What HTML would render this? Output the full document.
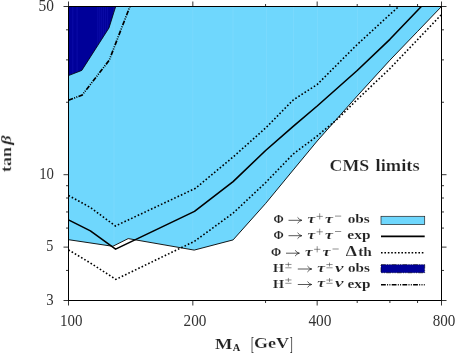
<!DOCTYPE html>
<html><head><meta charset="utf-8"><title>CMS limits</title>
<style>html,body{margin:0;padding:0;background:#fff;}body{width:455px;height:354px;overflow:hidden;position:relative;font-family:"Liberation Serif",serif;}</style>
</head><body>
<svg width="455" height="354" viewBox="0 0 455 354" style="position:absolute;left:0;top:0">
<polygon points="68.5,6.5 441.5,6.5 417.5,31.5 389.9,60.2 357.2,96.0 317.2,141.0 293.2,170.0 265.6,203.5 233.1,239.9 194.2,250.1 128.2,238.6 112.8,246.3 68.5,239.7" fill="#6fd7fd" stroke="#000" stroke-width="0.9" stroke-linejoin="miter"/>
<polygon points="68.5,6.5 115.7,6.5 109.0,27.9 81.8,70.4 68.5,75.6" fill="#000099" stroke="#000" stroke-width="0.8"/>
<clipPath id="cd"><polygon points="68.5,6.5 115.7,6.5 109.0,27.9 81.8,70.4 68.5,75.6"/></clipPath><clipPath id="cl"><polygon points="68.5,6.5 441.5,6.5 417.5,31.5 389.9,60.2 357.2,96.0 317.2,141.0 293.2,170.0 265.6,203.5 233.1,239.9 194.2,250.1 128.2,238.6 112.8,246.3 68.5,239.7"/></clipPath>
<path clip-path="url(#cd)" d="M72.8,6V80M77.1,6V80M97.8,6V80M99.8,6V80M101.7,6V80M103.6,6V80M105.6,6V80M107.6,6V80" stroke="#5050ff" stroke-opacity="0.16" stroke-width="0.9" fill="none"/>
<path clip-path="url(#cl)" d="M114,6V260M192.8,6V260M233,6V260M266.5,6V260M293.5,6V260M317.5,6V260M357.5,6V260" stroke="#fff" stroke-opacity="0.07" stroke-width="1" fill="none"/>
<polyline points="68.5,100.3 82.2,95.0 109.2,60.3 129.9,6.5" fill="none" stroke="#000" stroke-width="1.7" stroke-dasharray="4.8 1.3 1 1.3 1 1.3"/>
<polyline points="68.5,195.5 90.4,207.5 115.4,226.0 195.5,188.3 233.1,157.0 265.6,128.0 293.2,100.0 317.2,84.5 357.2,44.5 389.9,14.5 398.7,6.5" fill="none" stroke="#000" stroke-width="1.6" stroke-dasharray="1.6 2.07"/>
<polyline points="68.5,249.9 90.4,263.0 115.8,279.4 194.5,241.3 233.3,213.0 265.6,182.6 293.2,154.0 317.2,136.0 338.3,118.3 357.2,99.5 389.9,68.6 417.5,39.7 441.0,15.0" fill="none" stroke="#000" stroke-width="1.6" stroke-dasharray="1.6 2.07"/>
<polyline points="68.5,219.9 90.4,230.9 115.6,249.1 194.5,211.4 233.1,181.6 265.6,150.5 293.2,126.3 317.2,106.0 357.2,70.5 389.9,39.3 421.3,6.5" fill="none" stroke="#000" stroke-width="1.6" stroke-linejoin="round"/>
<rect x="68.5" y="6.5" width="373.0" height="294.0" fill="none" stroke="#000" stroke-width="1"/>
<path d="M68.50,300.5v5M68.50,6.5v-5M192.83,300.5v5M192.83,6.5v-5M317.17,300.5v5M317.17,6.5v-5M441.50,300.5v5M441.50,6.5v-5M265.56,300.5v2.5M265.56,6.5v-2.5M357.19,300.5v2.5M357.19,6.5v-2.5M389.90,300.5v2.5M389.90,6.5v-2.5M417.55,300.5v2.5M417.55,6.5v-2.5M68.5,300.50h-5M441.5,300.50h5M68.5,247.12h-5M441.5,247.12h5M68.5,174.69h-5M441.5,174.69h5M68.5,6.50h-5M441.5,6.50h5M68.5,270.44h-2.5M441.5,270.44h2.5M68.5,228.07h-2.5M441.5,228.07h2.5M68.5,211.96h-2.5M441.5,211.96h2.5M68.5,198.00h-2.5M441.5,198.00h2.5M68.5,185.70h-2.5M441.5,185.70h2.5M68.5,102.25h-2.5M441.5,102.25h2.5M68.5,59.88h-2.5M441.5,59.88h2.5M68.5,29.82h-2.5M441.5,29.82h2.5" stroke="#111" stroke-width="0.85" fill="none"/>
<rect x="381" y="216.3" width="43.7" height="8.3" fill="#6fd7fd" stroke="#222" stroke-width="0.7"/>
<line x1="381" x2="424.7" y1="236.4" y2="236.4" stroke="#000" stroke-width="1.6"/>
<line x1="381" x2="424.7" y1="252.7" y2="252.7" stroke="#000" stroke-width="1.6" stroke-dasharray="1.6 1.8"/>
<rect x="381" y="264.6" width="43.7" height="8.2" fill="#000099" stroke="#000" stroke-width="0.6" stroke-dasharray="4.8 1.3 1 1.3 1 1.3"/>
<line x1="381" x2="424.7" y1="284.7" y2="284.7" stroke="#000" stroke-width="1.5" stroke-dasharray="4.8 1.3 1 1.3 1 1.3"/>
<g style="filter:grayscale(1)">
<text transform="translate(38.60,10.64) scale(0.15400,0.16296)" font-family="Liberation Serif, serif" font-size="100" font-weight="normal" font-style="normal" fill="#333" >50</text>
<text transform="translate(39.20,178.64) scale(0.14800,0.16296)" font-family="Liberation Serif, serif" font-size="100" font-weight="normal" font-style="normal" fill="#333" >10</text>
<text transform="translate(46.30,251.43) scale(0.14200,0.16541)" font-family="Liberation Serif, serif" font-size="100" font-weight="normal" font-style="normal" fill="#333" >5</text>
<text transform="translate(46.20,305.03) scale(0.14800,0.16567)" font-family="Liberation Serif, serif" font-size="100" font-weight="normal" font-style="normal" fill="#333" >3</text>
<text transform="translate(60.10,325.64) scale(0.15000,0.16444)" font-family="Liberation Serif, serif" font-size="100" font-weight="normal" font-style="normal" fill="#333" >100</text>
<text transform="translate(183.60,325.64) scale(0.15267,0.16444)" font-family="Liberation Serif, serif" font-size="100" font-weight="normal" font-style="normal" fill="#333" >200</text>
<text transform="translate(308.40,325.64) scale(0.15400,0.16444)" font-family="Liberation Serif, serif" font-size="100" font-weight="normal" font-style="normal" fill="#333" >400</text>
<text transform="translate(432.70,325.64) scale(0.15133,0.16444)" font-family="Liberation Serif, serif" font-size="100" font-weight="normal" font-style="normal" fill="#333" >800</text>
<g transform="translate(11.1,172.1) rotate(-90)"><text transform="translate(0.00,0.00) scale(0.18058,0.14870)" font-family="Liberation Serif, serif" font-size="100" font-weight="bold" font-style="normal" fill="#222"  stroke="#fff" stroke-width="0.2" vector-effect="non-scaling-stroke">tan</text><text transform="translate(27.15,-0.11) scale(0.18532,0.14022)" font-family="Liberation Serif, serif" font-size="100" font-weight="bold" font-style="italic" fill="#222"  stroke="#fff" stroke-width="0.2" vector-effect="non-scaling-stroke">β</text></g>
<text transform="translate(214.90,348.50) scale(0.18413,0.15115)" font-family="Liberation Serif, serif" font-size="100" font-weight="bold" font-style="normal" fill="#222"  stroke="#fff" stroke-width="0.2" vector-effect="non-scaling-stroke">M</text>
<text transform="translate(232.70,351.30) scale(0.10417,0.11061)" font-family="Liberation Serif, serif" font-size="100" font-weight="bold" font-style="normal" fill="#222" >A</text>
<text transform="translate(250.90,350.40) scale(0.08955,0.18554)" font-family="Liberation Serif, serif" font-size="100" font-weight="normal" font-style="normal" fill="#222" >[</text>
<text transform="translate(254.00,348.47) scale(0.18098,0.15259)" font-family="Liberation Serif, serif" font-size="100" font-weight="bold" font-style="normal" fill="#222"  stroke="#fff" stroke-width="0.2" vector-effect="non-scaling-stroke">GeV</text>
<text transform="translate(289.80,350.40) scale(0.08955,0.18554)" font-family="Liberation Serif, serif" font-size="100" font-weight="normal" font-style="normal" fill="#222" >]</text>
<text transform="translate(329.50,170.72) scale(0.17838,0.17612)" font-family="Liberation Serif, serif" font-size="100" font-weight="bold" font-style="normal" fill="#222"  stroke="#fff" stroke-width="0.2" vector-effect="non-scaling-stroke">CMS</text>
<text transform="translate(375.60,170.73) scale(0.18410,0.16879)" font-family="Liberation Serif, serif" font-size="100" font-weight="bold" font-style="normal" fill="#222"  stroke="#fff" stroke-width="0.2" vector-effect="non-scaling-stroke">limits</text>
<text transform="translate(273.50,223.30) scale(0.12289,0.12824)" font-family="Liberation Serif, serif" font-size="100" font-weight="bold" font-style="normal" fill="#222"  stroke="#fff" stroke-width="0.12" vector-effect="non-scaling-stroke">Φ</text><path d="M288.9,220.3H301.5M297.8,217.70000000000002Q299.40000000000003,219.8 301.8,220.3Q299.40000000000003,220.8 297.8,222.9" fill="none" stroke="#222" stroke-width="0.75" stroke-linecap="round"/><text transform="translate(307.40,223.28) scale(0.17021,0.11702)" font-family="Liberation Serif, serif" font-size="100" font-weight="bold" font-style="italic" fill="#222"  stroke="#fff" stroke-width="0.12" vector-effect="non-scaling-stroke">τ</text><path d="M316.60,216.40H322.80M319.70,213.30V219.50" stroke="#444" stroke-width="0.6" fill="none"/><text transform="translate(324.90,223.28) scale(0.17660,0.11702)" font-family="Liberation Serif, serif" font-size="100" font-weight="bold" font-style="italic" fill="#222"  stroke="#fff" stroke-width="0.12" vector-effect="non-scaling-stroke">τ</text><path d="M335.00,216.10H341.20" stroke="#444" stroke-width="0.6" fill="none"/>
<text transform="translate(347.70,223.37) scale(0.15294,0.13050)" font-family="Liberation Serif, serif" font-size="100" font-weight="bold" font-style="normal" fill="#222"  stroke="#fff" stroke-width="0.12" vector-effect="non-scaling-stroke">obs</text>
<text transform="translate(273.50,238.70) scale(0.12289,0.12824)" font-family="Liberation Serif, serif" font-size="100" font-weight="bold" font-style="normal" fill="#222"  stroke="#fff" stroke-width="0.12" vector-effect="non-scaling-stroke">Φ</text><path d="M288.9,235.7H301.5M297.8,233.1Q299.40000000000003,235.2 301.8,235.7Q299.40000000000003,236.2 297.8,238.29999999999998" fill="none" stroke="#222" stroke-width="0.75" stroke-linecap="round"/><text transform="translate(307.40,238.68) scale(0.17021,0.11702)" font-family="Liberation Serif, serif" font-size="100" font-weight="bold" font-style="italic" fill="#222"  stroke="#fff" stroke-width="0.12" vector-effect="non-scaling-stroke">τ</text><path d="M316.60,231.80H322.80M319.70,228.70V234.90" stroke="#444" stroke-width="0.6" fill="none"/><text transform="translate(324.90,238.68) scale(0.17660,0.11702)" font-family="Liberation Serif, serif" font-size="100" font-weight="bold" font-style="italic" fill="#222"  stroke="#fff" stroke-width="0.12" vector-effect="non-scaling-stroke">τ</text><path d="M335.00,231.50H341.20" stroke="#444" stroke-width="0.6" fill="none"/>
<text transform="translate(347.30,239.07) scale(0.15467,0.12701)" font-family="Liberation Serif, serif" font-size="100" font-weight="bold" font-style="normal" fill="#222"  stroke="#fff" stroke-width="0.12" vector-effect="non-scaling-stroke">exp</text>
<text transform="translate(271.00,256.20) scale(0.12289,0.12824)" font-family="Liberation Serif, serif" font-size="100" font-weight="bold" font-style="normal" fill="#222"  stroke="#fff" stroke-width="0.12" vector-effect="non-scaling-stroke">Φ</text><path d="M286.4,253.2H299.0M295.3,250.6Q296.90000000000003,252.7 299.3,253.2Q296.90000000000003,253.7 295.3,255.79999999999998" fill="none" stroke="#222" stroke-width="0.75" stroke-linecap="round"/><text transform="translate(304.90,256.18) scale(0.17021,0.11702)" font-family="Liberation Serif, serif" font-size="100" font-weight="bold" font-style="italic" fill="#222"  stroke="#fff" stroke-width="0.12" vector-effect="non-scaling-stroke">τ</text><path d="M314.10,249.30H320.30M317.20,246.20V252.40" stroke="#444" stroke-width="0.6" fill="none"/><text transform="translate(322.40,256.18) scale(0.17660,0.11702)" font-family="Liberation Serif, serif" font-size="100" font-weight="bold" font-style="italic" fill="#222"  stroke="#fff" stroke-width="0.12" vector-effect="non-scaling-stroke">τ</text><path d="M332.50,249.00H338.70" stroke="#444" stroke-width="0.6" fill="none"/>
<text transform="translate(345.80,256.20) scale(0.17760,0.13636)" font-family="Liberation Serif, serif" font-size="100" font-weight="bold" font-style="normal" fill="#222"  stroke="#fff" stroke-width="0.12" vector-effect="non-scaling-stroke">Δ</text>
<text transform="translate(358.20,256.17) scale(0.15393,0.13333)" font-family="Liberation Serif, serif" font-size="100" font-weight="bold" font-style="normal" fill="#222"  stroke="#fff" stroke-width="0.12" vector-effect="non-scaling-stroke">th</text>
<text transform="translate(272.90,272.00) scale(0.14231,0.12977)" font-family="Liberation Serif, serif" font-size="100" font-weight="bold" font-style="normal" fill="#222"  stroke="#fff" stroke-width="0.12" vector-effect="non-scaling-stroke">H</text><path d="M285.30,264.45H291.50M288.40,262.40V266.50M285.30,267.80H291.50" stroke="#444" stroke-width="0.6" fill="none"/><path d="M298.2,269.0H311.4M307.7,266.4Q309.3,268.5 311.7,269.0Q309.3,269.5 307.7,271.6" fill="none" stroke="#222" stroke-width="0.75" stroke-linecap="round"/><text transform="translate(317.30,271.98) scale(0.17234,0.11702)" font-family="Liberation Serif, serif" font-size="100" font-weight="bold" font-style="italic" fill="#222"  stroke="#fff" stroke-width="0.12" vector-effect="non-scaling-stroke">τ</text><path d="M326.40,264.55H332.60M329.50,262.60V266.50M326.40,267.80H332.60" stroke="#444" stroke-width="0.6" fill="none"/><text transform="translate(334.90,271.98) scale(0.19121,0.11702)" font-family="Liberation Serif, serif" font-size="100" font-weight="bold" font-style="italic" fill="#222"  stroke="#fff" stroke-width="0.12" vector-effect="non-scaling-stroke">ν</text>
<text transform="translate(347.90,272.07) scale(0.15156,0.13050)" font-family="Liberation Serif, serif" font-size="100" font-weight="bold" font-style="normal" fill="#222"  stroke="#fff" stroke-width="0.12" vector-effect="non-scaling-stroke">obs</text>
<text transform="translate(272.90,287.50) scale(0.14231,0.12977)" font-family="Liberation Serif, serif" font-size="100" font-weight="bold" font-style="normal" fill="#222"  stroke="#fff" stroke-width="0.12" vector-effect="non-scaling-stroke">H</text><path d="M285.30,279.95H291.50M288.40,277.90V282.00M285.30,283.30H291.50" stroke="#444" stroke-width="0.6" fill="none"/><path d="M298.2,284.5H311.4M307.7,281.9Q309.3,284.0 311.7,284.5Q309.3,285.0 307.7,287.1" fill="none" stroke="#222" stroke-width="0.75" stroke-linecap="round"/><text transform="translate(317.30,287.48) scale(0.17234,0.11702)" font-family="Liberation Serif, serif" font-size="100" font-weight="bold" font-style="italic" fill="#222"  stroke="#fff" stroke-width="0.12" vector-effect="non-scaling-stroke">τ</text><path d="M326.40,280.05H332.60M329.50,278.10V282.00M326.40,283.30H332.60" stroke="#444" stroke-width="0.6" fill="none"/><text transform="translate(334.90,287.48) scale(0.19121,0.11702)" font-family="Liberation Serif, serif" font-size="100" font-weight="bold" font-style="italic" fill="#222"  stroke="#fff" stroke-width="0.12" vector-effect="non-scaling-stroke">ν</text>
<text transform="translate(347.50,287.87) scale(0.15333,0.12701)" font-family="Liberation Serif, serif" font-size="100" font-weight="bold" font-style="normal" fill="#222"  stroke="#fff" stroke-width="0.12" vector-effect="non-scaling-stroke">exp</text>
</g>
</svg>
</body></html>
